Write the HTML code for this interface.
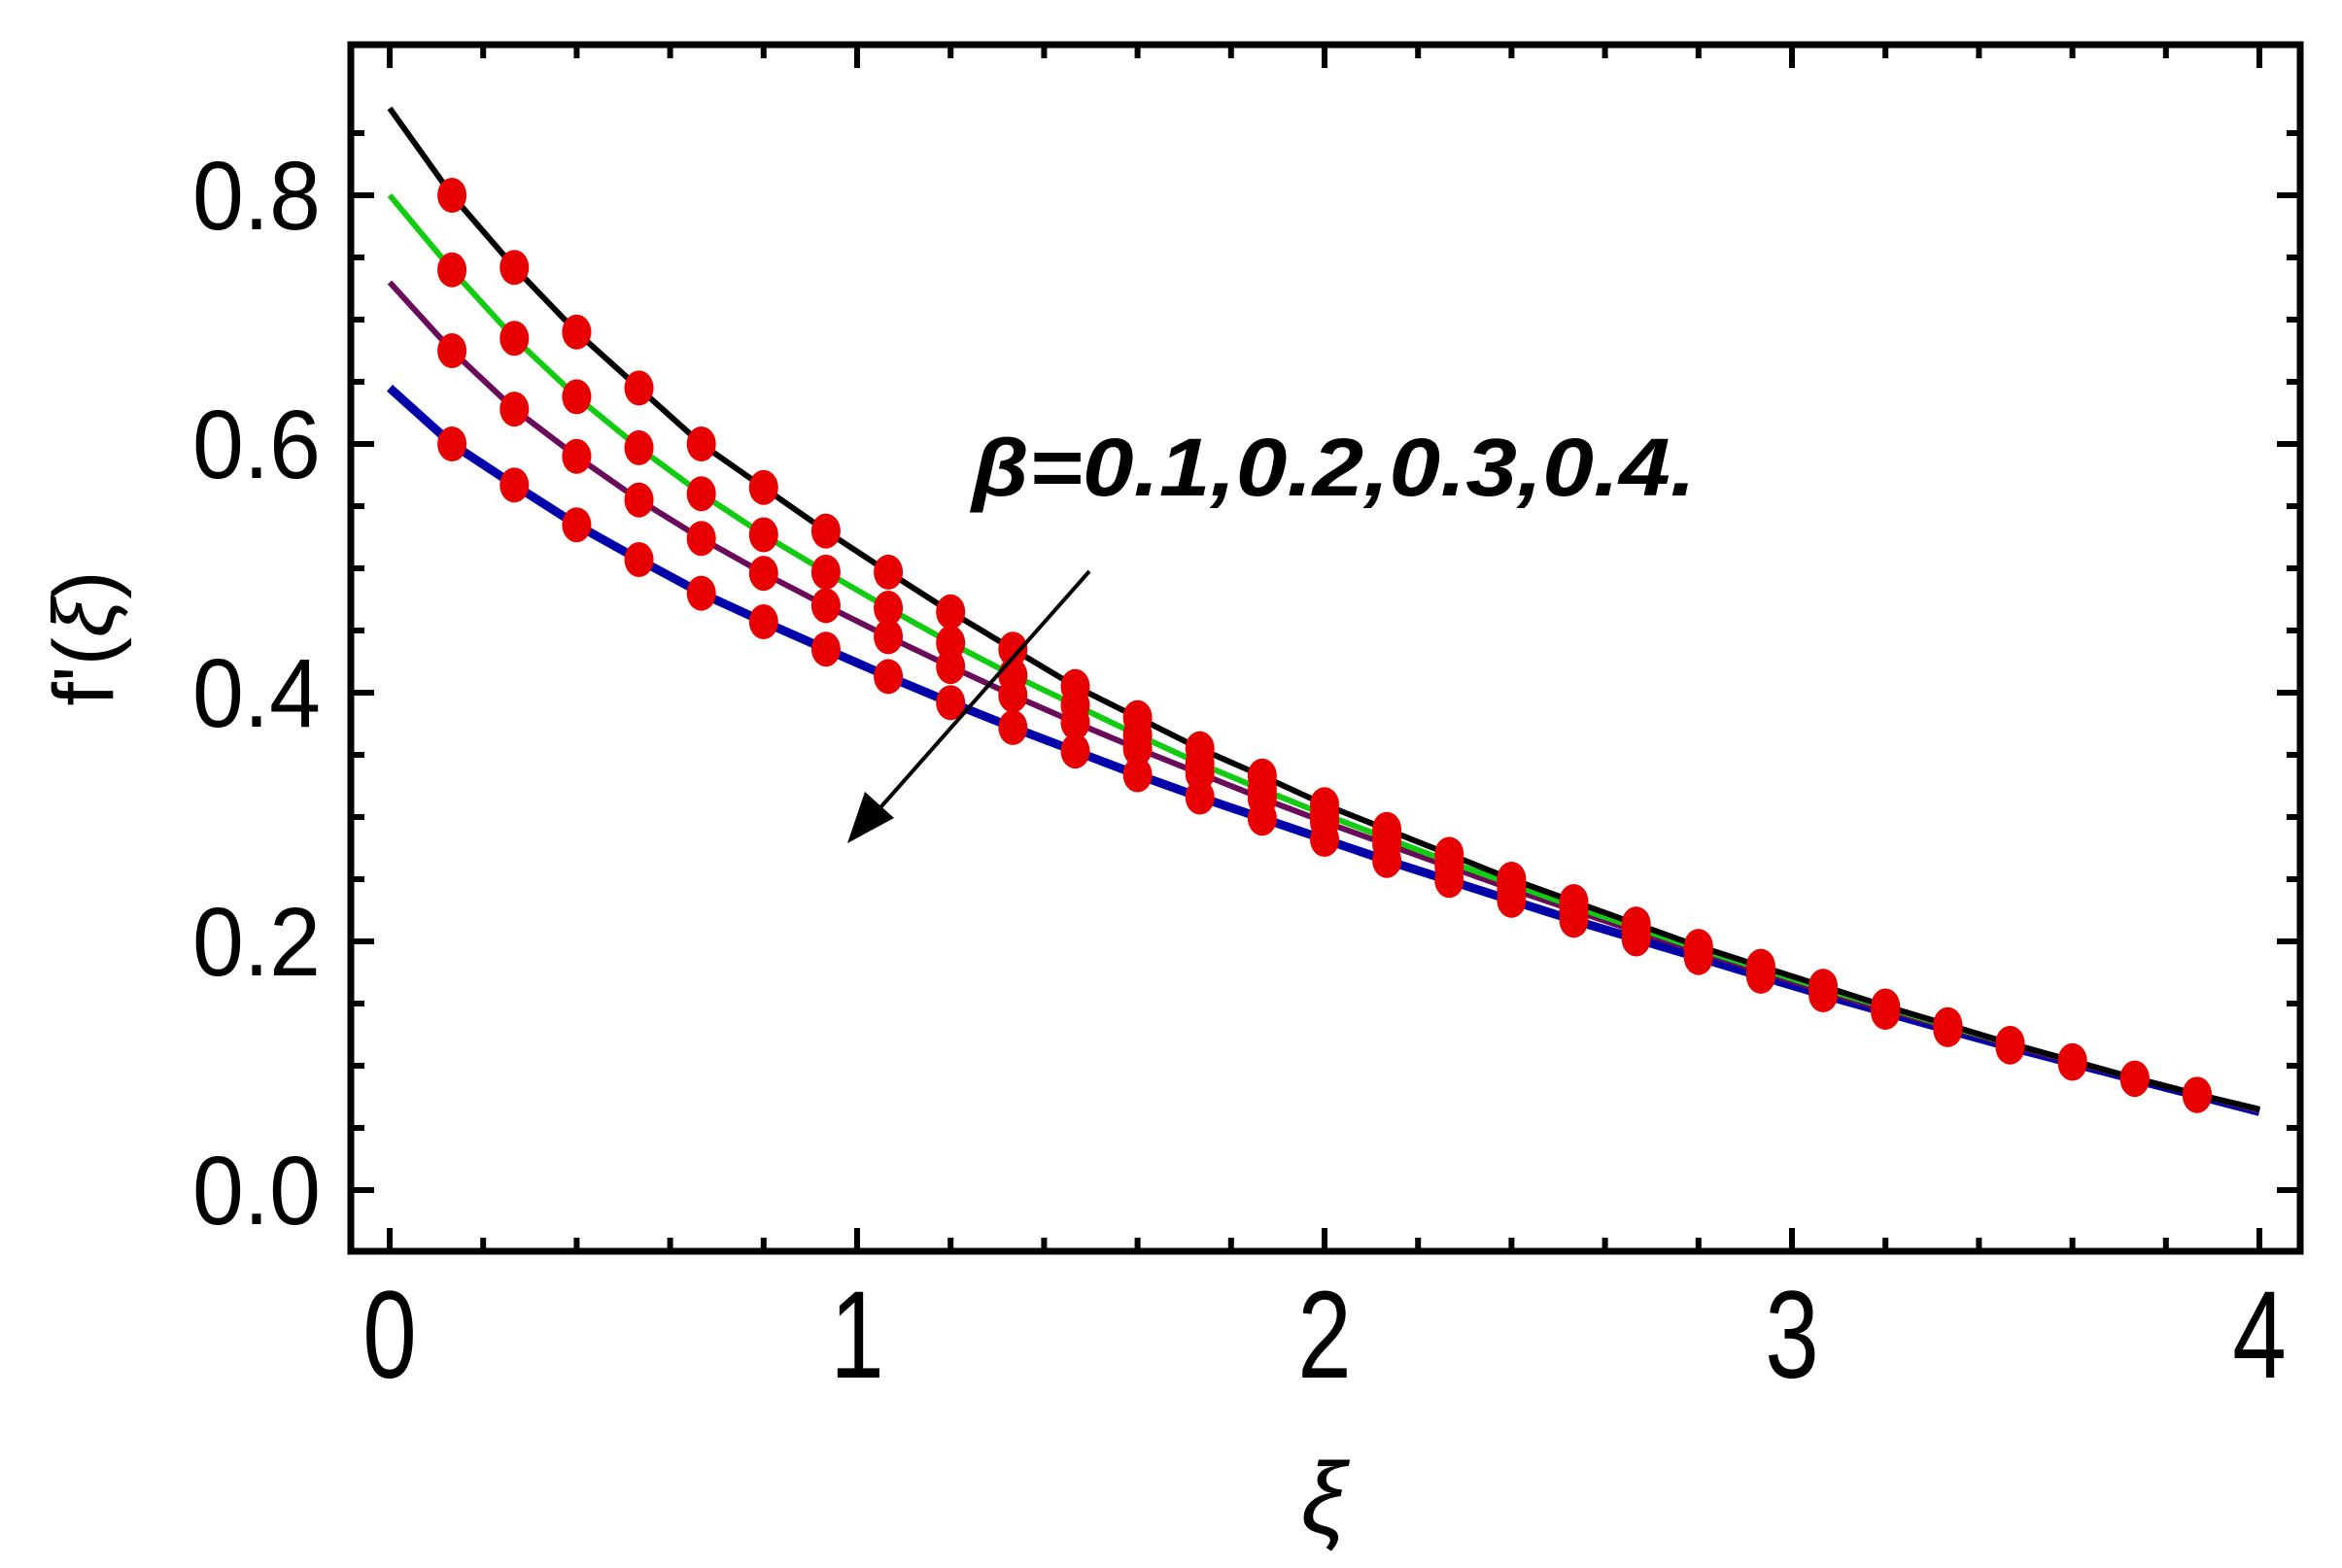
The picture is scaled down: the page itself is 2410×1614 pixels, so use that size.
<!DOCTYPE html>
<html><head><meta charset="utf-8">
<style>
html,body{margin:0;padding:0;background:#fff;}
svg{display:block;}
text{font-family:"Liberation Sans",sans-serif;}
</style></head>
<body>
<svg id="chart" width="2410" height="1614" viewBox="0 0 2410 1614" xmlns="http://www.w3.org/2000/svg">
<rect x="0" y="0" width="2410" height="1614" fill="#fff"/>
<g id="grid"></g>
<g id="series"></g>
<g id="dots"></g>
<rect x="361" y="46" width="2006" height="1242" fill="none" stroke="#000" stroke-width="7"/>
<g id="labels"></g>
<text x="93" y="657" font-size="88" text-anchor="middle" dominant-baseline="middle" transform="rotate(-90 93 657)">f'(<tspan font-style="italic">ξ</tspan>)</text>
<text x="1362" y="1578" font-size="104" font-style="italic" text-anchor="middle">ξ</text>
<text x="1000" y="510" font-size="84" font-weight="bold" font-style="italic" textLength="745" lengthAdjust="spacingAndGlyphs">β=0.1,0.2,0.3,0.4.</text>
<g>
<line x1="1121" y1="588" x2="900" y2="838" stroke="#000" stroke-width="4"/>
<polygon points="872,868 890,815 920,842" fill="#000"/>
</g>
</svg>
<script>
const xi = [0,0.1333,0.2667,0.4,0.5333,0.6667,0.8,0.9333,1.0667,1.2,1.3333,1.4667,1.6,1.7333,1.8667,2,2.1333,2.2667,2.4,2.5333,2.6667,2.8,2.9333,3.0667,3.2,3.3333,3.4667,3.6,3.7333,3.8667,4];
const beta01 = [0.87,0.80,0.742,0.69,0.645,0.60,0.565,0.53,0.497,0.465,0.435,0.405,0.38,0.355,0.333,0.31,0.29,0.27,0.25,0.232,0.214,0.196,0.18,0.164,0.148,0.133,0.118,0.104,0.09,0.077,0.065];
const beta02 = [0.80,0.74,0.685,0.638,0.597,0.56,0.527,0.497,0.468,0.44,0.414,0.39,0.366,0.343,0.322,0.302,0.283,0.264,0.246,0.228,0.211,0.194,0.178,0.162,0.147,0.132,0.118,0.104,0.09,0.077,0.065];
const beta03 = [0.73,0.675,0.628,0.59,0.555,0.524,0.496,0.47,0.445,0.421,0.398,0.376,0.355,0.335,0.315,0.296,0.278,0.26,0.242,0.225,0.208,0.192,0.176,0.16,0.145,0.131,0.117,0.103,0.09,0.077,0.064];
const beta04 = [0.645,0.60,0.567,0.535,0.507,0.48,0.457,0.435,0.413,0.392,0.372,0.353,0.334,0.316,0.299,0.282,0.265,0.249,0.233,0.217,0.202,0.187,0.172,0.157,0.143,0.129,0.115,0.102,0.089,0.076,0.063];
const xTicks = [0,1,2,3,4];
const xTickLabels = ["0","1","2","3","4"];
const yTicks = [0,0.2,0.4,0.6,0.8];
const yTickLabels = ["0.0","0.2","0.4","0.6","0.8"];

const NS = "http://www.w3.org/2000/svg";
const X0 = 401, XS = 481;
const Y0 = 1225, YS = 1280;
const fx = v => X0 + v * XS;
const fy = v => Y0 - v * YS;
const L = 361, R = 2367, T = 46, B = 1288;

function mk(tag, attrs, parent){
  const e = document.createElementNS(NS, tag);
  for (const k in attrs) e.setAttribute(k, attrs[k]);
  parent.appendChild(e);
  return e;
}
const grid = document.getElementById('grid');
for (let i = 0; i <= 20; i++) {
  const v = i * 0.2;
  const major = i % 5 === 0;
  const len = major ? 24 : 14;
  const x = fx(v);
  let t = mk('line', {x1:x, y1:B, x2:x, y2:B-len, stroke:'#000','stroke-width':6}, grid);
  
  
  t = mk('line', {x1:x, y1:T, x2:x, y2:T+len, stroke:'#000','stroke-width':6}, grid);
  
  
}
for (let i = -1; i <= 17; i++) {
  const v = i * 0.05;
  const y = fy(v);
  if (y < T + 4 || y > B - 4) continue;
  const major = i % 4 === 0;
  const len = major ? 24 : 14;
  let t = mk('line', {x1:L, y1:y, x2:L+len, y2:y, stroke:'#000','stroke-width':6}, grid);
  
  
  t = mk('line', {x1:R, y1:y, x2:R-len, y2:y, stroke:'#000','stroke-width':6}, grid);
  
  
}
const labels = document.getElementById('labels');
xTicks.forEach((v, i) => {
  const t = mk('text', {x:fx(v), y:1418, 'font-size':128, 'text-anchor':'middle', transform:`translate(${fx(v)} 0) scale(0.78 1) translate(${-fx(v)} 0)`}, labels);
  t.textContent = xTickLabels[i];
  
  
});
yTicks.forEach((v, i) => {
  const t = mk('text', {x:330, y:fy(v)+35, 'font-size':100, 'text-anchor':'end', transform:`translate(330 0) scale(0.95 1) translate(-330 0)`}, labels);
  t.textContent = yTickLabels[i];
  
  
});

const series = [
  {d: beta04, c:'#0000aa', w:9, n:'line-beta-0.4'},
  {d: beta03, c:'#6a0a5a', w:6, n:'line-beta-0.3'},
  {d: beta02, c:'#11cc11', w:6, n:'line-beta-0.2'},
  {d: beta01, c:'#000000', w:6, n:'line-beta-0.1'}
];
const sg = document.getElementById('series');
series.forEach(s => {
  const pts = s.d.map((v, i) => fx(xi[i]).toFixed(1) + ',' + fy(v).toFixed(1)).join(' ');
  const p = mk('polyline', {points:pts, fill:'none', stroke:s.c, 'stroke-width':s.w, 'stroke-linejoin':'round'}, sg);
  
  
});
const dg = document.getElementById('dots');
series.forEach(s => {
  for (let i = 1; i < xi.length - 1; i++) {
    const c = mk('ellipse', {cx:fx(xi[i]), cy:fy(s.d[i]), rx:15, ry:18, fill:'#e80000'}, dg);
    
    
  }
});
</script>
</body></html>
